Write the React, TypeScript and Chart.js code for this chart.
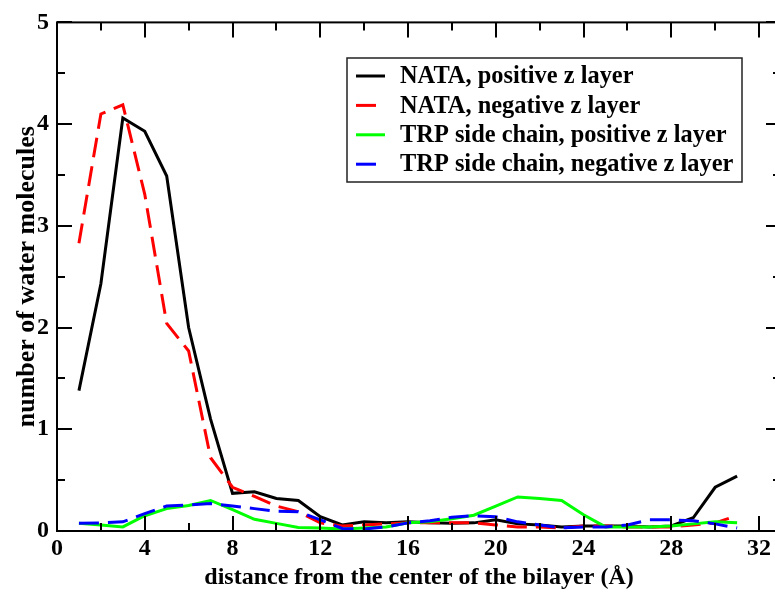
import React, { useEffect, useRef } from 'react';
import { Chart, registerables } from 'chart.js';

Chart.register(...registerables);

const distances = [1, 2, 3, 4, 5, 6, 7, 8, 9, 10, 11, 12, 13, 14, 15, 16, 17, 18, 19, 20, 21, 22, 23, 24, 25, 26, 27, 28, 29, 30, 31];
const nataPositive = [1.38, 2.43, 4.06, 3.93, 3.49, 2.0, 1.1, 0.37, 0.385, 0.32, 0.3, 0.14, 0.06, 0.09, 0.08, 0.09, 0.08, 0.075, 0.08, 0.11, 0.07, 0.06, 0.04, 0.05, 0.05, 0.05, 0.04, 0.05, 0.13, 0.43, 0.54];
const nataNegative = [2.83, 4.1, 4.19, 3.31, 2.04, 1.77, 0.72, 0.43, 0.34, 0.245, 0.19, 0.08, 0.05, 0.06, 0.07, 0.08, 0.08, 0.08, 0.08, 0.06, 0.04, 0.04, 0.03, 0.05, 0.05, 0.04, 0.04, 0.04, 0.06, 0.08, 0.15];
const trpPositive = [0.075, 0.06, 0.04, 0.15, 0.22, 0.25, 0.3, 0.21, 0.115, 0.075, 0.035, 0.03, 0.02, 0.03, 0.04, 0.08, 0.09, 0.12, 0.155, 0.245, 0.335, 0.32, 0.3, 0.16, 0.04, 0.04, 0.04, 0.05, 0.07, 0.09, 0.08];
const trpNegative = [0.075, 0.08, 0.09, 0.17, 0.245, 0.255, 0.27, 0.245, 0.22, 0.195, 0.19, 0.11, 0.025, 0.02, 0.04, 0.08, 0.1, 0.135, 0.15, 0.14, 0.09, 0.06, 0.03, 0.04, 0.04, 0.06, 0.11, 0.11, 0.1, 0.07, 0.03];

const seriesLabels = [
  'NATA, positive z layer',
  'NATA, negative z layer',
  'TRP side chain, positive z layer',
  'TRP side chain, negative z layer',
];
const seriesColors = ['#000000', '#ff0000', '#00ff00', '#0000ff'];

const xMajorTicks = [0, 4, 8, 12, 16, 20, 24, 28, 32];
const xMinorTicks = [2, 6, 10, 14, 18, 22, 26, 30];
const yMajorTicks = [0, 1, 2, 3, 4, 5];
const yMinorTicks = [0.5, 1.5, 2.5, 3.5, 4.5];

const xTitle = 'distance from the center of the bilayer (Å)';
const yTitle = 'number of water molecules';

const FONT = '"Liberation Serif", "Times New Roman", serif';

const framePlugin = {
  id: 'xmgraceFrame',
  afterDatasetsDraw(chart: any) {
    const { ctx, chartArea: a, scales } = chart;
    const x = scales.x;
    const y = scales.y;
    ctx.save();
    ctx.strokeStyle = '#000';
    ctx.lineWidth = 2;
    ctx.setLineDash([]);
    ctx.strokeRect(a.left, a.top, a.right - a.left, a.bottom - a.top);
    const line = (x1: number, y1: number, x2: number, y2: number) => {
      ctx.beginPath();
      ctx.moveTo(x1, y1);
      ctx.lineTo(x2, y2);
      ctx.stroke();
    };
    const major = 15;
    const minor = 8;
    xMajorTicks.forEach((v) => {
      const p = Math.round(x.getPixelForValue(v));
      line(p, a.bottom, p, a.bottom - major);
      line(p, a.top, p, a.top + major);
    });
    xMinorTicks.forEach((v) => {
      const p = Math.round(x.getPixelForValue(v));
      line(p, a.bottom, p, a.bottom - minor);
      line(p, a.top, p, a.top + minor);
    });
    yMajorTicks.forEach((v) => {
      const p = Math.round(y.getPixelForValue(v));
      line(a.left, p, a.left + major, p);
      line(a.right, p, a.right - major, p);
    });
    yMinorTicks.forEach((v) => {
      const p = Math.round(y.getPixelForValue(v));
      line(a.left, p, a.left + minor, p);
      line(a.right, p, a.right - minor, p);
    });
    ctx.restore();
  },
  afterDraw(chart: any) {
    const { ctx } = chart;
    const bx = 347;
    const by = 58;
    const bw = 395;
    const bh = 124;
    ctx.save();
    ctx.fillStyle = '#fff';
    ctx.fillRect(bx, by, bw, bh);
    ctx.strokeStyle = '#222';
    ctx.lineWidth = 1.5;
    ctx.strokeRect(bx, by, bw, bh);
    ctx.font = `bold 24.4px ${FONT}`;
    ctx.textBaseline = 'middle';
    ctx.textAlign = 'left';
    chart.data.datasets.forEach((ds: any, i: number) => {
      const rowY = by + 18 + i * 29.4;
      ctx.strokeStyle = ds.borderColor;
      ctx.lineWidth = 3;
      ctx.setLineDash(ds.borderDash || []);
      ctx.beginPath();
      ctx.moveTo(356, rowY);
      ctx.lineTo(385, rowY);
      ctx.stroke();
      ctx.setLineDash([]);
      ctx.fillStyle = '#000';
      ctx.fillText(ds.label, 400, rowY + 1);
    });
    ctx.restore();
  },
};

export default function App() {
  const canvasRef = useRef<HTMLCanvasElement | null>(null);

  useEffect(() => {
    const canvas = canvasRef.current;
    if (!canvas) return;
    const seriesValues = [nataPositive, nataNegative, trpPositive, trpNegative];
    const dashes = [[], [20, 9], [], [20, 9]];
    const orders = [3, 2, 1, 0];
    const chart = new Chart(canvas, {
      type: 'line',
      data: {
        datasets: seriesValues.map((vals, i) => ({
          label: seriesLabels[i],
          data: distances.map((d, j) => ({ x: d, y: vals[j] })),
          borderColor: seriesColors[i],
          backgroundColor: seriesColors[i],
          borderWidth: 3,
          borderDash: dashes[i],
          pointRadius: 0,
          tension: 0,
          fill: false,
          order: orders[i],
        })),
      },
      options: {
        responsive: false,
        animation: false,
        layout: { padding: { top: 21, right: 9, left: 0, bottom: 0 } },
        plugins: { legend: { display: false }, tooltip: { enabled: false } },
        scales: {
          x: {
            type: 'linear',
            position: 'bottom',
            min: 0,
            max: 33,
            afterBuildTicks: (s: any) => {
              s.ticks = xMajorTicks.map((v) => ({ value: v }));
            },
            afterFit: (s: any) => {
              s.height = 62;
            },
            grid: { display: false, drawTicks: false },
            border: { display: false },
            ticks: {
              color: '#000',
              padding: 3,
              maxRotation: 0,
              autoSkip: false,
              font: { family: FONT, size: 24, weight: 'bold' },
            },
            title: {
              display: true,
              text: xTitle,
              color: '#000',
              font: { family: FONT, size: 24, weight: 'bold', lineHeight: 1 },
              padding: { top: 0, bottom: 3 },
            },
          },
          y: {
            type: 'linear',
            position: 'left',
            min: 0,
            max: 5,
            afterBuildTicks: (s: any) => {
              s.ticks = yMajorTicks.map((v) => ({ value: v }));
            },
            afterFit: (s: any) => {
              s.width = 57;
            },
            grid: { display: false, drawTicks: false },
            border: { display: false },
            ticks: {
              color: '#000',
              padding: 8,
              autoSkip: false,
              font: { family: FONT, size: 24, weight: 'bold' },
            },
            title: {
              display: true,
              text: yTitle,
              color: '#000',
              font: { family: FONT, size: 26, weight: 'bold', lineHeight: 1 },
              padding: { top: 14, bottom: 0 },
            },
          },
        },
      } as any,
      plugins: [framePlugin],
    });
    return () => chart.destroy();
  }, []);

  return (
    <div
      style={{
        position: 'fixed',
        left: 0,
        top: 0,
        width: 775,
        height: 593,
        overflow: 'hidden',
        background: '#fff',
      }}
    >
      <canvas ref={canvasRef} width={790} height={593} style={{ display: 'block', width: 790, height: 593 }} />
    </div>
  );
}
